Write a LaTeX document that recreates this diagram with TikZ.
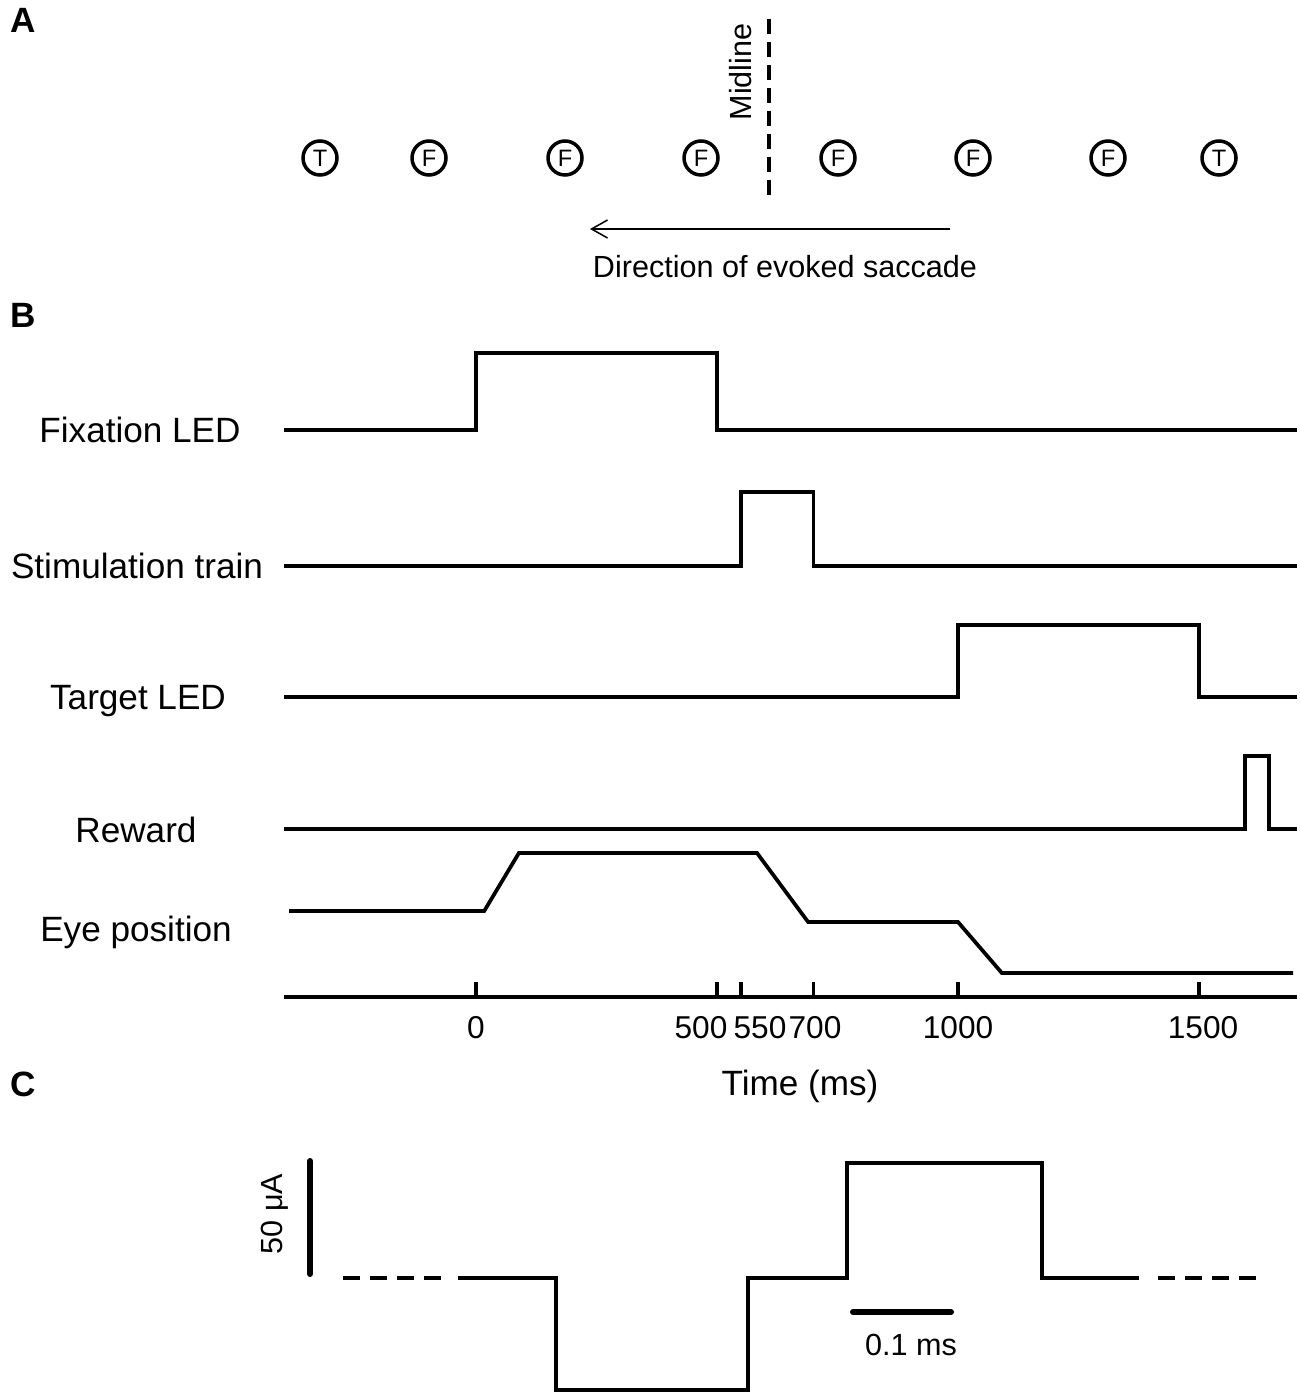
\documentclass[tikz,border=0pt]{standalone}
\usepackage{fontspec}
\setmainfont{Liberation Sans}
\usepackage{tikz}
\usetikzlibrary{arrows.meta, positioning}

\tikzset{
  trace/.style = {line width = 0.075cm, line join = miter},
  pulse/.style = {line width = 0.08cm, line join = miter},
  scalebar/.style = {line width = 0.12cm, line cap = round},
  gapline/.style = {line width = 0.08cm, dash pattern = on 0.34cm off 0.2cm},
  midline/.style = {line width = 0.07cm, dash pattern = on 0.3cm off 0.16cm},
  site/.style = {circle, draw, line width = 0.07cm, minimum size = 0.68cm,
    inner sep = 0pt, font = \fontsize{13.5pt}{14pt}\selectfont},
  panel/.style = {anchor = base west, font = \fontsize{20pt}{21pt}\selectfont\bfseries},
  textA/.style = {anchor = base, font = \fontsize{17.4pt}{20pt}\selectfont},
  textB/.style = {anchor = base, font = \fontsize{20pt}{22pt}\selectfont},
  ticktext/.style = {anchor = base, font = \fontsize{18pt}{20pt}\selectfont}
}

\begin{document}
\begin{tikzpicture}[x = 0.02cm, y = -0.02cm]
  \def\tZero{476}
  \def\tMs{0.482}
  \def\fixLow{430}
  \def\stimLow{566}
  \def\targLow{697}
  \def\rewLow{829}
  \def\axisY{997}
  \def\baseC{1278}

  \useasboundingbox (0, 0) rectangle (1299, 1395);

  % ------------------------
  % panel A: fixation and target sites
  % ------------------------

  \node[panel] (labelA) at (4, 33) {A};

  \node[site] (T1) at (320, 158) {T};
  \node[site] (F1) at (429, 158) {F};
  \node[site] (F2) at (565, 158) {F};
  \node[site] (F3) at (701, 158) {F};
  \node[site] (F4) at (838, 158) {F};
  \node[site] (F5) at (973, 158) {F};
  \node[site] (F6) at (1108, 158) {F};
  \node[site] (T2) at (1219, 158) {T};

  \coordinate (midTop) at (769, 19);
  \coordinate (midBot) at (769, 196);
  \draw[midline] (midTop) -- (midBot);
  \node[textA, rotate = 90] (midText) at (751, 72) {Midline};

  \coordinate (saccTail) at (950, 229);
  \coordinate (saccHead) at (590, 229);
  \draw[line width = 0.03cm, -{Straight Barb[length = 0.32cm, width = 0.36cm]}] (saccTail) -- (saccHead);
  \node[textA] (saccText) at (785, 277) {Direction of evoked saccade};

  % ------------------------
  % panel B: timing of the trial
  % ------------------------

  \node[panel] (labelB) at (4, 327) {B};

  \node[textB] (fixText) at (140, 442) {Fixation LED};
  \draw[trace] (284, \fixLow) -- ({\tZero+\tMs*0}, \fixLow) -- ({\tZero+\tMs*0}, 353)
    -- ({\tZero+\tMs*500}, 353) -- ({\tZero+\tMs*500}, \fixLow) -- (1297, \fixLow);

  \node[textB] (stimText) at (137, 578) {Stimulation train};
  \draw[trace] (284, \stimLow) -- ({\tZero+\tMs*550}, \stimLow) -- ({\tZero+\tMs*550}, 492)
    -- ({\tZero+\tMs*700}, 492) -- ({\tZero+\tMs*700}, \stimLow) -- (1297, \stimLow);

  \node[textB] (targText) at (138, 709) {Target LED};
  \draw[trace] (284, \targLow) -- ({\tZero+\tMs*1000}, \targLow) -- ({\tZero+\tMs*1000}, 625)
    -- ({\tZero+\tMs*1500}, 625) -- ({\tZero+\tMs*1500}, \targLow) -- (1297, \targLow);

  \node[textB] (rewText) at (136, 842) {Reward};
  \draw[trace] (284, \rewLow) -- ({\tZero+\tMs*1595}, \rewLow) -- ({\tZero+\tMs*1595}, 756)
    -- ({\tZero+\tMs*1645}, 756) -- ({\tZero+\tMs*1645}, \rewLow) -- (1297, \rewLow);

  \node[textB] (eyeText) at (136, 941) {Eye position};
  \draw[trace] (289, 911) -- ({\tZero+\tMs*17}, 911) -- ({\tZero+\tMs*89}, 853)
    -- ({\tZero+\tMs*583}, 853) -- ({\tZero+\tMs*689}, 922) -- ({\tZero+\tMs*1000}, 922)
    -- ({\tZero+\tMs*1091}, 973) -- (1293, 973);

  % time axis
  \coordinate (axisL) at (284, \axisY);
  \coordinate (axisR) at (1297, \axisY);
  \draw[trace] (axisL) -- (axisR);

  \coordinate (tick0) at ({\tZero+\tMs*0}, \axisY);
  \coordinate (tick500) at ({\tZero+\tMs*500}, \axisY);
  \coordinate (tick550) at ({\tZero+\tMs*550}, \axisY);
  \coordinate (tick700) at ({\tZero+\tMs*700}, \axisY);
  \coordinate (tick1000) at ({\tZero+\tMs*1000}, \axisY);
  \coordinate (tick1500) at ({\tZero+\tMs*1500}, \axisY);
  \draw[trace] (tick0) -- ++(0, -15);
  \draw[trace] (tick500) -- ++(0, -15);
  \draw[trace] (tick550) -- ++(0, -15);
  \draw[trace] (tick700) -- ++(0, -15);
  \draw[trace] (tick1000) -- ++(0, -15);
  \draw[trace] (tick1500) -- ++(0, -15);

  \node[ticktext] (lab0) at (476, 1038) {0};
  \node[ticktext] (lab500) at (701, 1038) {500};
  \node[ticktext] (lab550) at (760, 1038) {550};
  \node[ticktext] (lab700) at (815, 1038) {700};
  \node[ticktext] (lab1000) at (958, 1038) {1000};
  \node[ticktext] (lab1500) at (1203, 1038) {1500};
  \node[textB] (timeText) at (800, 1095) {Time (ms)};

  % ------------------------
  % panel C: biphasic stimulation pulse
  % ------------------------

  \node[panel] (labelC) at (4, 1096) {C};

  \coordinate (ampTop) at (310, 1161);
  \coordinate (ampBot) at (310, 1274);
  \draw[scalebar] (ampTop) -- (ampBot);
  \node[textA, rotate = 90] (ampText) at (282, 1214) {50 μA};

  \draw[gapline] (343, \baseC) -- (441, \baseC);
  \draw[pulse] (458, \baseC) -- (556, \baseC) -- (556, 1390) -- (748, 1390) -- (748, \baseC)
    -- (847, \baseC) -- (847, 1163) -- (1042, 1163) -- (1042, \baseC) -- (1139, \baseC);
  \draw[gapline] (1158, \baseC) -- (1256, \baseC);

  \coordinate (durL) at (853, 1312);
  \coordinate (durR) at (951, 1312);
  \draw[scalebar] (durL) -- (durR);
  \node[textA] (durText) at (911, 1355) {0.1 ms};
\end{tikzpicture}
\end{document}
